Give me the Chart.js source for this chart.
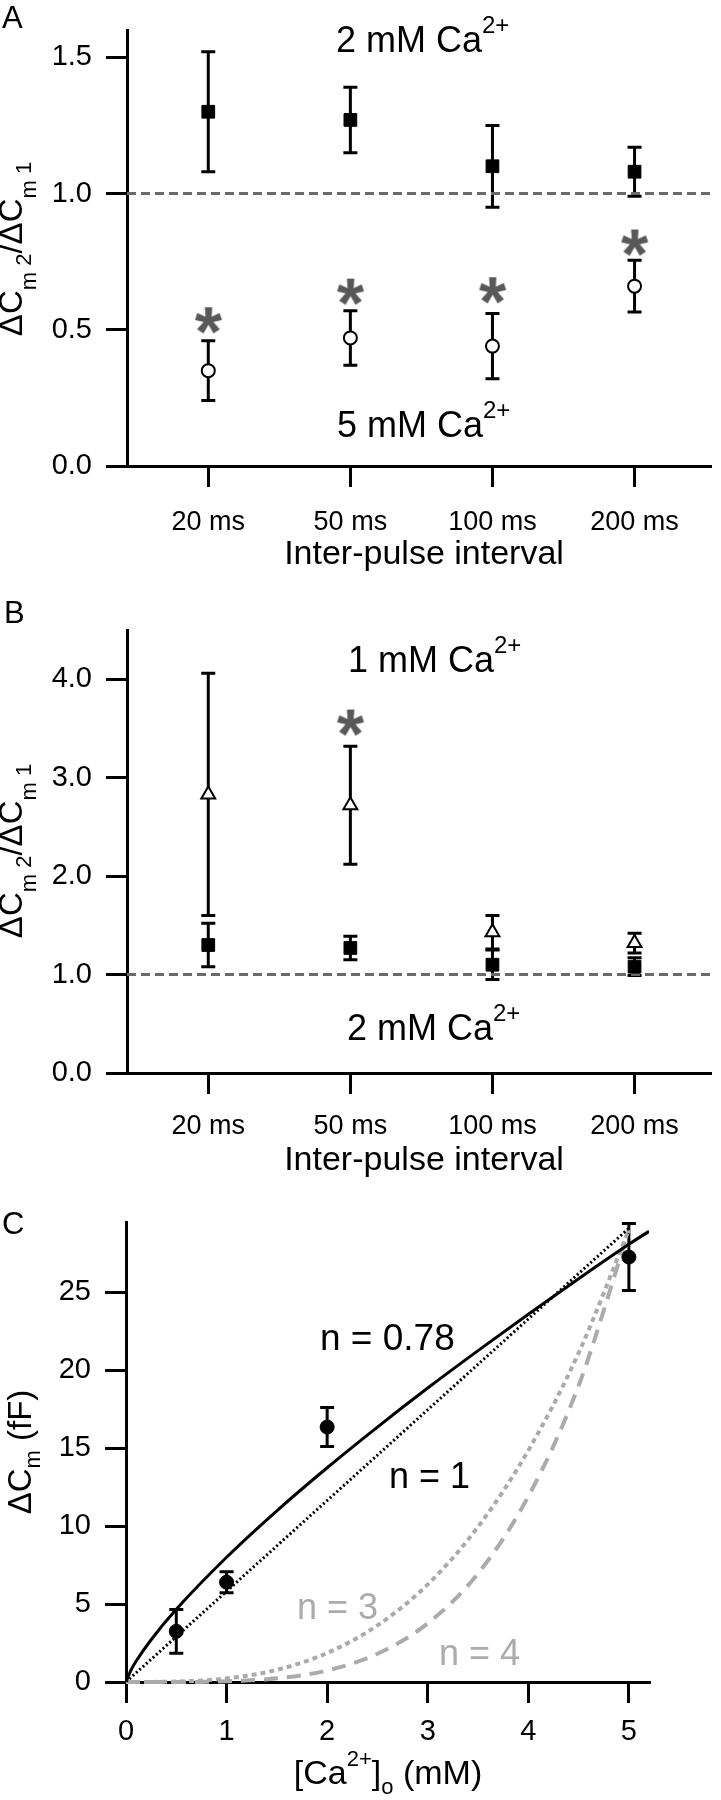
<!DOCTYPE html>
<html>
<head>
<meta charset="utf-8">
<script src="https://cdn.jsdelivr.net/npm/chart.js@4.4.0/dist/chart.umd.min.js"></script>
<style>
  body { margin: 0; background: #fff; }
  canvas { display: block; }
</style>
</head>
<body>
<canvas id="panelA" width="721" height="600"></canvas>
<canvas id="panelB" width="721" height="600"></canvas>
<canvas id="panelC" width="721" height="600"></canvas>
<script>
// A and B: ratio of the 2nd to the 1st response vs inter-pulse interval
let intervals = ['20 ms', '50 ms', '100 ms', '200 ms'];

let ratio2mM = [1.30, 1.27, 1.10, 1.08];
let ratio2mMErr = [0.22, 0.12, 0.15, 0.09];
let ratio5mM = [0.35, 0.47, 0.44, 0.66];
let ratio5mMErr = [0.11, 0.10, 0.12, 0.095];
let ratio1mM = [2.83, 2.72, 1.43, 1.32];
let ratio1mMErr = [1.23, 0.60, 0.17, 0.10];

let starsA = [0.535, 0.64, 0.645, 0.82];
let starsB = [null, 3.56, null, null];

// C: dose response
let caConc = [0.5, 1, 2, 5];
let deltaCm = [3.25, 6.4, 16.35, 27.25];
let deltaCmErr = [1.4, 0.67, 1.25, 2.15];

let fitX = [0, 0.05, 0.1, 0.25, 0.5, 1, 1.5, 2, 2.5, 3, 3.5, 4, 4.5, 5, 5.2];
let fitN078 = [0, 0.77, 1.33, 2.71, 4.66, 8.0, 10.98, 13.74, 16.35, 18.85, 21.25, 23.58, 25.86, 28.07, 28.9];
let lineX = [0, 5];
let fitN1 = [0, 29.1];
let powX = [0, 0.5, 1, 1.5, 2, 2.5, 3, 3.5, 4, 4.5, 5];
let fitN3 = [0, 0.03, 0.23, 0.78, 1.86, 3.63, 6.26, 9.95, 14.85, 21.1, 29.0];
let fitN4 = [0, 0.003, 0.046, 0.235, 0.74, 1.81, 3.76, 6.96, 11.9, 19.0, 29.0];

const FONT = '"Liberation Sans", Arial, sans-serif';
const GREY = '#ababab';

function pts(xs, ys) {
    return xs.map((x, i) => ({ x: x, y: ys[i] }));
}
let idx = intervals.map((_, i) => i);

// asterisk used as point style
let star = document.createElement('canvas');
star.width = 40;
star.height = 40;
(function () {
    let g = star.getContext('2d');
    g.fillStyle = '#585858';
    g.font = 'bold 70px ' + FONT;
    g.textAlign = 'center';
    let m = g.measureText('*');
    g.fillText('*', 20, 20 + (m.actualBoundingBoxAscent - m.actualBoundingBoxDescent) / 2);
})();

// error bars with caps, drawn under the markers
const errorBars = {
    id: 'errorBars',
    beforeDatasetsDraw(chart) {
        let ctx = chart.ctx;
        let yS = chart.scales.y;
        chart.data.datasets.forEach((ds, i) => {
            if (!ds.err) return;
            let meta = chart.getDatasetMeta(i);
            ctx.save();
            ctx.strokeStyle = '#000';
            ctx.lineWidth = 3;
            meta.data.forEach((pt, j) => {
                let v = ds.data[j].y, e = ds.err[j];
                let top = yS.getPixelForValue(v + e);
                let bot = yS.getPixelForValue(v - e);
                ctx.beginPath();
                ctx.moveTo(pt.x, top); ctx.lineTo(pt.x, bot);
                ctx.moveTo(pt.x - 7, top); ctx.lineTo(pt.x + 7, top);
                ctx.moveTo(pt.x - 7, bot); ctx.lineTo(pt.x + 7, bot);
                ctx.stroke();
            });
            ctx.restore();
        });
    }
};

// text with super/subscripts: parts = [[text, shift]], 1 = sup, -1 = sub, -2 = low index
function drawRich(ctx, parts, size, align, color) {
    let small = Math.round(size * 0.66);
    let w = 0;
    parts.forEach(p => {
        ctx.font = (p[1] ? small : size) + 'px ' + FONT;
        w += ctx.measureText(p[0]).width;
    });
    let x = align === 'center' ? -w / 2 : 0;
    ctx.fillStyle = color;
    ctx.textBaseline = 'alphabetic';
    ctx.textAlign = 'left';
    parts.forEach(p => {
        ctx.font = (p[1] ? small : size) + 'px ' + FONT;
        let dy = 0;
        if (p[1] === 1) dy = -size * 0.52;
        if (p[1] === -1) dy = size * 0.28;
        if (p[1] === -2) dy = size * 0.42;
        ctx.fillText(p[0], x, dy);
        x += ctx.measureText(p[0]).width;
    });
}

const notes = {
    id: 'notes',
    afterDraw(chart, args, opts) {
        let ctx = chart.ctx;
        (opts.items || []).forEach(it => {
            ctx.save();
            ctx.translate(it.x, it.y);
            if (it.rotate) ctx.rotate(-Math.PI / 2);
            drawRich(ctx, it.parts, it.size, it.align || 'left', it.color || '#000');
            ctx.restore();
        });
    }
};

const frame = {
    border: { display: true, color: '#000', width: 3 },
    grid: { drawOnChartArea: false, drawTicks: true, tickLength: 21, tickWidth: 3, tickColor: '#000', color: '#000', lineWidth: 3 }
};

function noPad(s) {
    s.paddingTop = 0; s.paddingBottom = 0; s.paddingLeft = 0; s.paddingRight = 0;
}

function intervalAxis(bottomSpace, labelPad) {
    return Object.assign({}, frame, {
        type: 'linear', min: -0.572, max: 3.531,
        afterBuildTicks: s => { s.ticks = idx.map(i => ({ value: i })); },
        afterFit: s => { s.height = bottomSpace; noPad(s); },
        ticks: { color: '#000', padding: labelPad, maxRotation: 0, autoSkip: false, font: { family: FONT, size: 27 }, callback: v => intervals[v] }
    });
}

function ratioAxis(max, tickVals) {
    return Object.assign({}, frame, {
        type: 'linear', min: 0, max: max,
        afterBuildTicks: s => { s.ticks = tickVals.map(v => ({ value: v })); },
        afterFit: s => { s.width = 127; noPad(s); },
        ticks: { color: '#000', padding: 14, font: { family: FONT, size: 29 }, callback: v => v.toFixed(1) }
    });
}

function ratioTitle(cy) {
    return { x: 22, y: cy, rotate: true, align: 'center', size: 33,
        parts: [['ΔC', 0], ['m', -2], [' 2', -1], ['/ΔC', 0], ['m', -2], [' 1', -1]] };
}

function dashedOne() {
    return { data: pts([-0.572, 3.531], [1, 1]), showLine: true, pointRadius: 0, borderColor: '#6a6a6a', borderWidth: 3, borderDash: [9, 5] };
}

function baseOptions(top, right, items, xAxis, yAxis) {
    return {
        responsive: false, animation: false, events: [],
        layout: { padding: { top: top, left: 0, right: right, bottom: 0 } },
        plugins: { legend: { display: false }, tooltip: { enabled: false }, notes: { items: items } },
        scales: { x: xAxis, y: yAxis }
    };
}

// Panel A
new Chart(document.getElementById('panelA'), {
    type: 'scatter',
    data: {
        datasets: [
            { data: pts(idx, starsA), pointStyle: star, pointRadius: 10 },
            { data: pts(idx, ratio2mM), err: ratio2mMErr, pointStyle: 'rect', pointRadius: 9, backgroundColor: '#000', borderColor: '#000', borderWidth: 1 },
            { data: pts(idx, ratio5mM), err: ratio5mMErr, pointStyle: 'circle', pointRadius: 6.5, backgroundColor: '#fff', borderColor: '#000', borderWidth: 2 },
            dashedOne()
        ]
    },
    options: baseOptions(30, 0, [
        { x: 2, y: 28, size: 31, parts: [['A', 0]] },
        { x: 336, y: 52, size: 36, parts: [['2 mM Ca', 0], ['2+', 1]] },
        { x: 337, y: 437, size: 36, parts: [['5 mM Ca', 0], ['2+', 1]] },
        { x: 424, y: 564, size: 34, align: 'center', parts: [['Inter-pulse interval', 0]] },
        ratioTitle(249)
    ], intervalAxis(134, 19), ratioAxis(1.6, [0, 0.5, 1, 1.5])),
    plugins: [errorBars, notes]
});

// Panel B
new Chart(document.getElementById('panelB'), {
    type: 'scatter',
    data: {
        datasets: [
            { data: pts(idx, starsB), pointStyle: star, pointRadius: 10 },
            { data: pts(idx, ratio2mM), err: ratio2mMErr, pointStyle: 'rect', pointRadius: 9, backgroundColor: '#000', borderColor: '#000', borderWidth: 1 },
            { data: pts(idx, ratio1mM), err: ratio1mMErr, pointStyle: 'triangle', pointRadius: 8, backgroundColor: '#fff', borderColor: '#000', borderWidth: 2 },
            dashedOne()
        ]
    },
    options: baseOptions(30, 0, [
        { x: 4, y: 23, size: 31, parts: [['B', 0]] },
        { x: 348, y: 72, size: 36, parts: [['1 mM Ca', 0], ['2+', 1]] },
        { x: 347, y: 440, size: 36, parts: [['2 mM Ca', 0], ['2+', 1]] },
        { x: 424, y: 570, size: 34, align: 'center', parts: [['Inter-pulse interval', 0]] },
        ratioTitle(251)
    ], intervalAxis(127, 16), ratioAxis(4.5, [0, 1, 2, 3, 4])),
    plugins: [errorBars, notes]
});

// Panel C
new Chart(document.getElementById('panelC'), {
    type: 'scatter',
    data: {
        datasets: [
            { data: pts(caConc, deltaCm), err: deltaCmErr, pointStyle: 'circle', pointRadius: 7, backgroundColor: '#000', borderColor: '#000' },
            { data: pts(fitX, fitN078), showLine: true, pointRadius: 0, borderColor: '#000', borderWidth: 3, cubicInterpolationMode: 'monotone' },
            { data: pts(lineX, fitN1), showLine: true, pointRadius: 0, borderColor: '#000', borderWidth: 3, borderDash: [2, 2.5] },
            { data: pts(powX, fitN3), showLine: true, pointRadius: 0, borderColor: GREY, borderWidth: 4, borderDash: [5, 4], cubicInterpolationMode: 'monotone', clip: 6 },
            { data: pts(powX, fitN4), showLine: true, pointRadius: 0, borderColor: GREY, borderWidth: 4, borderDash: [14, 9], cubicInterpolationMode: 'monotone', clip: 6 }
        ]
    },
    options: baseOptions(22, 72, [
        { x: 2, y: 34, size: 31, parts: [['C', 0]] },
        { x: 320, y: 150, size: 37, parts: [['n = 0.78', 0]] },
        { x: 389, y: 288, size: 36, parts: [['n = 1', 0]] },
        { x: 297, y: 419, size: 36, color: GREY, parts: [['n = 3', 0]] },
        { x: 439, y: 465, size: 36, color: GREY, parts: [['n = 4', 0]] },
        { x: 388, y: 584, size: 34, align: 'center', parts: [['[Ca', 0], ['2+', 1], [']', 0], ['o', -1], [' (mM)', 0]] },
        { x: 31, y: 252, rotate: true, align: 'center', size: 33, parts: [['ΔC', 0], ['m', -1], [' (fF)', 0]] }
    ],
    Object.assign({}, frame, {
        type: 'linear', min: 0, max: 5.2,
        afterBuildTicks: s => { s.ticks = [0, 1, 2, 3, 4, 5].map(v => ({ value: v })); },
        afterFit: s => { s.height = 118; noPad(s); },
        ticks: { color: '#000', padding: 12, maxRotation: 0, font: { family: FONT, size: 29 } }
    }),
    Object.assign({}, frame, {
        type: 'linear', min: 0, max: 29.5,
        afterBuildTicks: s => { s.ticks = [0, 5, 10, 15, 20, 25].map(v => ({ value: v })); },
        afterFit: s => { s.width = 126; noPad(s); },
        ticks: { color: '#000', padding: 14, font: { family: FONT, size: 29 } }
    })),
    plugins: [errorBars, notes]
});
</script>
</body>
</html>
